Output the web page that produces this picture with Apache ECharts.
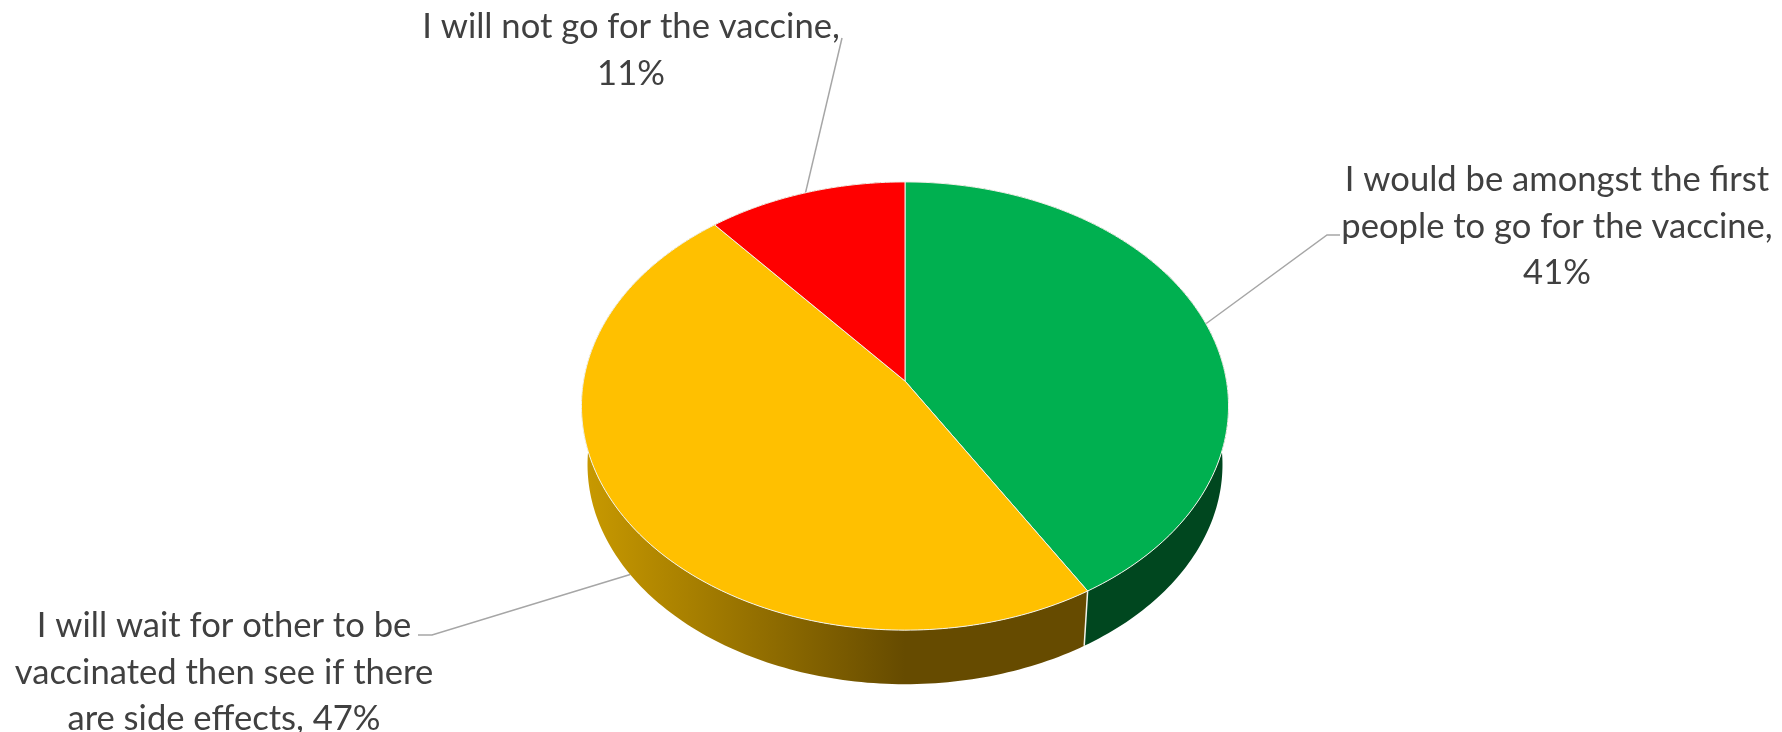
<!DOCTYPE html>
<html>
<head>
<meta charset="utf-8">
<style>html,body{margin:0;padding:0;background:#fff}#chart{width:1782px;height:732px}</style>
<script src="https://cdn.jsdelivr.net/npm/echarts@6/dist/echarts.min.js"></script>
</head>
<body>
<div id="chart"></div>
<script>
// Survey answers and their shares
var answers = [
  'I would be amongst the first people to go for the vaccine',
  'I will wait for other to be vaccinated then see if there are side effects',
  'I will not go for the vaccine'
];
var shares = [41, 47, 11];
// Line-wrapped label for each answer
var labelLines = [
  ['I would be amongst the first', 'people to go for the vaccine,', '41%'],
  ['I will wait for other to be', 'vaccinated then see if there', 'are side effects, 47%'],
  ['I will not go for the vaccine,', '11%']
];

var faceColors = ['#00B050', '#FFC000', '#FF0000'];
var font = 'Lato, "Open Sans", sans-serif';
var total = shares.reduce(function (a, b) { return a + b; }, 0);

// Perspective projection of the disc: (u, v) on the unit circle goes to screen space
var view = {
  cx: 905, k: 0.1117,
  top: { cy: 381, rx: 321.5, ry: 221.3 },
  base: { cy: 440, rx: 315.5, ry: 216.9 }
};
function project(ring, angle) {
  var u = Math.sin(angle), v = -Math.cos(angle), d = 1 - view.k * v;
  return [view.cx + ring.rx * u / d, ring.cy + ring.ry * v / d];
}
function arc(ring, from, to) {
  var pts = [], n = Math.max(2, Math.ceil((to - from) / (Math.PI / 180)));
  for (var i = 0; i <= n; i++) pts.push(project(ring, from + (to - from) * i / n));
  return pts;
}
function sliceAngles(index) {
  var before = 0;
  for (var i = 0; i < index; i++) before += shares[i];
  return [before / total * 2 * Math.PI, (before + shares[index]) / total * 2 * Math.PI];
}

// Wall shading: light at the left of the drum, darkening towards the front
var wallFills = [
  '#00471F',
  { type: 'linear', global: true, x: 582, y: 0, x2: 905, y2: 0,
    colorStops: [{ offset: 0, color: '#C99A00' }, { offset: 1, color: '#664B00' }] },
  '#990000'
];

// Text block and elbow of each leader line
var labelLayout = [
  { x: 1557, y: 180, elbow: [[1327, 235], [1340, 235]] },
  { x: 224, y: 626, elbow: [[432, 635], [418, 635]] },
  { x: 631, y: 27, elbow: [[842, 38]] }
];
var fontSize = 34.6, lineStep = 46.5;

function wallItem(params, api) {
  var i = params.dataIndex, a = sliceAngles(i);
  return {
    type: 'polygon',
    shape: { points: arc(view.top, a[0], a[1]).concat(arc(view.base, a[0], a[1]).reverse()) },
    style: { fill: wallFills[i], stroke: null }
  };
}
function wallEdgeItem(params, api) {
  var a = sliceAngles(params.dataIndex);
  var p = project(view.top, a[1]), q = project(view.base, a[1]);
  return {
    type: 'line',
    shape: { x1: p[0], y1: p[1], x2: q[0], y2: q[1] },
    style: { stroke: params.dataIndex === 0 ? '#F2F2EA' : 'transparent', lineWidth: 1.5 }
  };
}
function faceItem(params, api) {
  var i = params.dataIndex, a = sliceAngles(i);
  return {
    type: 'polygon',
    shape: { points: [[view.cx, view.top.cy]].concat(arc(view.top, a[0], a[1])) },
    style: { fill: faceColors[i], stroke: '#F2F2EA', lineWidth: 1 }
  };
}
function leaderItem(params, api) {
  var i = params.dataIndex, a = sliceAngles(i), mid = (a[0] + a[1]) / 2;
  // Slices facing the viewer leave the pie from the lower rim
  var ring = -Math.cos(mid) > 0 ? view.base : view.top;
  return {
    type: 'polyline',
    shape: { points: [project(ring, mid)].concat(labelLayout[i].elbow) },
    style: { stroke: '#A6A6A6', lineWidth: 1.5, fill: null }
  };
}
function labelItem(params, api) {
  var i = params.dataIndex, layout = labelLayout[i], lines = labelLines[i];
  return {
    type: 'group',
    children: lines.map(function (t, n) {
      return {
        type: 'text',
        style: {
          x: layout.x,
          y: layout.y + n * lineStep,
          text: t, fill: '#404040', font: fontSize + 'px ' + font,
          align: 'center', verticalAlign: 'middle'
        }
      };
    })
  };
}

var rows = shares.map(function (v, i) { return { name: answers[i], value: v }; });
function layer(name, z, render) {
  return {
    type: 'custom', name: name, coordinateSystem: 'none', z: z,
    silent: true, animation: false, data: rows, renderItem: render
  };
}

var chart = echarts.init(document.getElementById('chart'), null, { renderer: 'canvas' });
chart.setOption({
  backgroundColor: '#ffffff',
  animation: false,
  series: [
    layer('Leader lines', 1, leaderItem),
    layer('Walls', 2, wallItem),
    layer('Wall edges', 3, wallEdgeItem),
    layer('Faces', 4, faceItem),
    layer('Labels', 5, labelItem)
  ]
});
</script>
</body>
</html>
